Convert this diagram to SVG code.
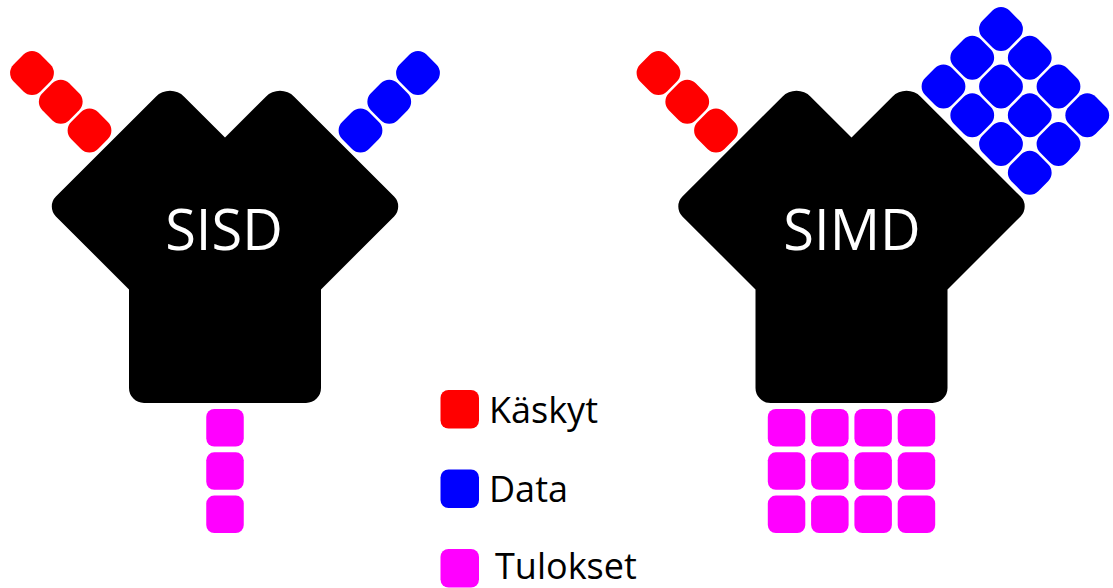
<svg xmlns="http://www.w3.org/2000/svg" xmlns:xlink="http://www.w3.org/1999/xlink" width="1113" height="588" viewBox="0 0 1113 588">
  <style>
    .core { fill: #000000; }
    .ins { fill: #FF0000; }
    .dat { fill: #0000FF; }
    .res { fill: #FF00FF; }
    .title { font-family: "Open Sans", "Noto Sans", "DejaVu Sans", sans-serif; font-size: 56px; fill: #FFFFFF; text-anchor: middle; }
    .key { font-family: "Open Sans", "Noto Sans", "DejaVu Sans", sans-serif; font-size: 36px; fill: #000000; }
  </style>
  <defs>
    <!-- processor body: two 45-degree lobes over a rounded base block -->
    <path id="body" d="M225 137.5 L184.14 96.64 A20 20 0 0 0 155.86 96.64 L55.9 196.6 A14 14 0 0 0 55.9 216.4 L129 289.5 L129 388 A15 15 0 0 0 144 403 L306 403 A15 15 0 0 0 321 388 L321 289.5 L394.1 216.4 A14 14 0 0 0 394.1 196.6 L294.14 96.64 A20 20 0 0 0 265.86 96.64 Z"/>
    <!-- tilted stream token -->
    <rect id="dsq" x="-19" y="-19" width="38" height="38" rx="12"/>
    <!-- upright token -->
    <rect id="sq" width="37.5" height="37.5" rx="8"/>
  </defs>

  <g id="sisd">
    <use xlink:href="#body" class="core"/>
    <text class="title" x="224" y="250">SISD</text>
    <g id="sisd-instructions" class="ins">
      <use xlink:href="#dsq" transform="translate(32 73) rotate(45)"/>
      <use xlink:href="#dsq" transform="translate(60.75 101.75) rotate(45)"/>
      <use xlink:href="#dsq" transform="translate(89.5 130.5) rotate(45)"/>
    </g>
    <g id="sisd-data" class="dat">
      <use xlink:href="#dsq" transform="translate(418 73) rotate(45)"/>
      <use xlink:href="#dsq" transform="translate(389.25 101.75) rotate(45)"/>
      <use xlink:href="#dsq" transform="translate(360.5 130.5) rotate(45)"/>
    </g>
    <g id="sisd-results" class="res">
      <use xlink:href="#sq" x="206.25" y="409"/>
      <use xlink:href="#sq" x="206.25" y="452.3"/>
      <use xlink:href="#sq" x="206.25" y="495.6"/>
    </g>
  </g>

  <g id="simd">
    <use xlink:href="#body" class="core" transform="translate(626.5 0)"/>
    <text class="title" x="852" y="250">SIMD</text>
    <g id="simd-instructions" class="ins">
      <use xlink:href="#dsq" transform="translate(658.5 73) rotate(45)"/>
      <use xlink:href="#dsq" transform="translate(687.25 101.75) rotate(45)"/>
      <use xlink:href="#dsq" transform="translate(716 130.5) rotate(45)"/>
    </g>
    <!-- 4 x 3 data lattice, tilted 45 degrees -->
    <g id="simd-data" class="dat">
      <use xlink:href="#dsq" transform="translate(1001 29) rotate(45)"/>
      <use xlink:href="#dsq" transform="translate(1029.75 57.75) rotate(45)"/>
      <use xlink:href="#dsq" transform="translate(1058.5 86.5) rotate(45)"/>
      <use xlink:href="#dsq" transform="translate(1087.25 115.25) rotate(45)"/>
      <use xlink:href="#dsq" transform="translate(972.25 57.75) rotate(45)"/>
      <use xlink:href="#dsq" transform="translate(1001 86.5) rotate(45)"/>
      <use xlink:href="#dsq" transform="translate(1029.75 115.25) rotate(45)"/>
      <use xlink:href="#dsq" transform="translate(1058.5 144) rotate(45)"/>
      <use xlink:href="#dsq" transform="translate(943.5 86.5) rotate(45)"/>
      <use xlink:href="#dsq" transform="translate(972.25 115.25) rotate(45)"/>
      <use xlink:href="#dsq" transform="translate(1001 144) rotate(45)"/>
      <use xlink:href="#dsq" transform="translate(1029.75 172.75) rotate(45)"/>
    </g>
    <g id="simd-results" class="res">
      <use xlink:href="#sq" x="767.8" y="409"/>
      <use xlink:href="#sq" x="811.1" y="409"/>
      <use xlink:href="#sq" x="854.4" y="409"/>
      <use xlink:href="#sq" x="897.7" y="409"/>
      <use xlink:href="#sq" x="767.8" y="452.3"/>
      <use xlink:href="#sq" x="811.1" y="452.3"/>
      <use xlink:href="#sq" x="854.4" y="452.3"/>
      <use xlink:href="#sq" x="897.7" y="452.3"/>
      <use xlink:href="#sq" x="767.8" y="495.6"/>
      <use xlink:href="#sq" x="811.1" y="495.6"/>
      <use xlink:href="#sq" x="854.4" y="495.6"/>
      <use xlink:href="#sq" x="897.7" y="495.6"/>
    </g>
  </g>

  <g id="legend">
    <g id="legend-instructions">
      <rect class="ins" x="440.5" y="390" width="38.5" height="38.5" rx="8"/>
      <text class="key" x="489" y="423">Käskyt</text>
    </g>
    <g id="legend-data">
      <rect class="dat" x="440.5" y="469.5" width="38.5" height="38.5" rx="8"/>
      <text class="key" x="489" y="502">Data</text>
    </g>
    <g id="legend-results">
      <rect class="res" x="440.5" y="549" width="38.5" height="38.5" rx="8"/>
      <text class="key" x="495" y="579">Tulokset</text>
    </g>
  </g>

  <!-- no connectors in this figure -->
  <g id="connectors"/>
</svg>
